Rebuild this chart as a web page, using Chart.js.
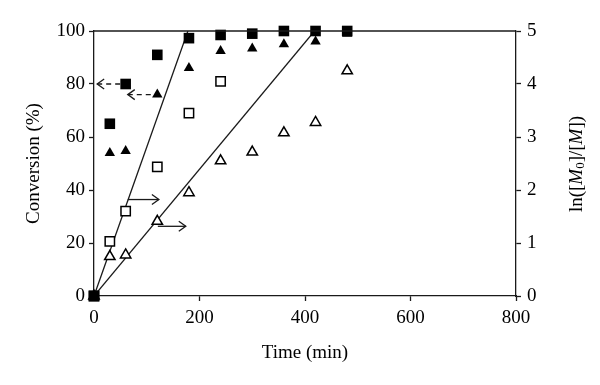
<!DOCTYPE html>
<html>
<head>
<meta charset="utf-8">
<script src="https://cdn.jsdelivr.net/npm/chart.js@4.4.1/dist/chart.umd.min.js"></script>
<style>
  html, body { margin: 0; padding: 0; background: #fff; }
  #wrap { width: 600px; height: 385px; position: relative; }
</style>
</head>
<body>
<div id="wrap"><canvas id="chart"></canvas></div>
<script>
// conversion data (%), time in min
const timeFilledSquare = [0, 30, 60, 120, 180, 240, 300, 360, 420, 480];
const convFilledSquare = [0, 65, 80, 91, 97.3, 98.5, 99, 100, 100, 100];
const timeFilledTriangle = [30, 60, 120, 180, 240, 300, 360, 420, 480];
const convFilledTriangle = [54, 54.7, 76, 86, 92.5, 93.4, 95, 96, 99];
const timeOpenSquare = [0, 30, 60, 120, 180, 240];
const convOpenSquare = [0, 20.6, 32, 48.7, 69, 81];
const timeOpenTriangle = [0, 30, 60, 120, 180, 240, 300, 360, 420, 480];
const convOpenTriangle = [0, 14.9, 15.5, 28.2, 39, 51, 54.3, 61.6, 65.5, 85];

// linear fits, ln([M0]/[M]) on the right axis
const fitFastTime = [0, 178];
const fitFastLn = [0, 5];
const fitSlowTime = [0, 418];
const fitSlowLn = [0, 5];

// arrows pointing to the axis each series belongs to (data units, left axis)
const arrowY = [80, 76, 36.4, 26.3];
const arrowFrom = [51, 111, 64, 121];
const arrowTo = [6, 64, 123, 174];
const arrowDashed = [true, true, false, false];

const xTicks = [0, 200, 400, 600, 800];
const yTicks = [0, 20, 40, 60, 80, 100];
const y2Ticks = [0, 1, 2, 3, 4, 5];

const FONT = "'Liberation Serif', 'DejaVu Serif', serif";
const INK = "#1a1a1a";

const pts = (xs, ys) => xs.map((x, i) => ({ x: x, y: ys[i] }));

Chart.defaults.font.family = FONT;
Chart.defaults.color = "#000";

const extras = {
  id: "extras",
  afterDatasetsDraw(chart) {
    const ctx = chart.ctx;
    const xs = chart.scales.x;
    const ys = chart.scales.y;
    const area = chart.chartArea;
    ctx.save();
    ctx.strokeStyle = INK;
    ctx.lineWidth = 1.3;
    // top frame line
    ctx.beginPath();
    ctx.moveTo(area.left, area.top);
    ctx.lineTo(area.right, area.top);
    ctx.stroke();

    arrowY.forEach((v, i) => {
      const y = ys.getPixelForValue(v);
      const x0 = xs.getPixelForValue(arrowFrom[i]);
      const x1 = xs.getPixelForValue(arrowTo[i]);
      const dir = x1 > x0 ? 1 : -1;
      ctx.setLineDash(arrowDashed[i] ? [5, 4] : []);
      ctx.beginPath();
      ctx.moveTo(x1, y);
      ctx.lineTo(x0, y);
      ctx.stroke();
      ctx.setLineDash([]);
      ctx.beginPath();
      ctx.moveTo(x1 - dir * 7, y - 5);
      ctx.lineTo(x1, y);
      ctx.lineTo(x1 - dir * 7, y + 5);
      ctx.stroke();
    });
    ctx.restore();
  },
  afterDraw(chart) {
    // right axis title: ln([M0]/[M]) with italic M and subscript 0
    const ctx = chart.ctx;
    const parts = [
      { t: "ln([", f: "19px " + FONT, dy: 0 },
      { t: "M", f: "italic 19px " + FONT, dy: 0 },
      { t: "0", f: "13px " + FONT, dy: 4 },
      { t: "]/[", f: "19px " + FONT, dy: 0 },
      { t: "M", f: "italic 19px " + FONT, dy: 0 },
      { t: "])", f: "19px " + FONT, dy: 0 },
    ];
    ctx.save();
    let total = 0;
    parts.forEach((p) => {
      ctx.font = p.f;
      p.w = ctx.measureText(p.t).width;
      total += p.w;
    });
    ctx.translate(577, 164);
    ctx.rotate(-Math.PI / 2);
    ctx.fillStyle = "#000";
    ctx.textBaseline = "middle";
    let cx = -total / 2;
    parts.forEach((p) => {
      ctx.font = p.f;
      ctx.fillText(p.t, cx, p.dy);
      cx += p.w;
    });
    ctx.restore();
  },
};

const tickGrid = {
  display: true,
  drawOnChartArea: false,
  drawTicks: true,
  tickLength: 5,
  tickColor: INK,
  tickWidth: 1.3,
};

new Chart(document.getElementById("chart"), {
  type: "scatter",
  data: {
    datasets: [
      {
        label: "filled square",
        data: pts(timeFilledSquare, convFilledSquare),
        pointStyle: "rect",
        pointRadius: 7.5,
        backgroundColor: "#000",
        borderColor: "#000",
        borderWidth: 0,
        yAxisID: "y",
        clip: false,
        order: 0,
      },
      {
        label: "filled triangle",
        data: pts(timeFilledTriangle, convFilledTriangle),
        pointStyle: "triangle",
        pointRadius: 6,
        backgroundColor: "#000",
        borderColor: "#000",
        borderWidth: 0,
        yAxisID: "y",
        clip: false,
        order: 1,
      },
      {
        label: "open square",
        data: pts(timeOpenSquare, convOpenSquare),
        pointStyle: "rect",
        pointRadius: 6.6,
        backgroundColor: "#fff",
        borderColor: "#000",
        borderWidth: 1.5,
        yAxisID: "y",
        clip: false,
        order: 2,
      },
      {
        label: "open triangle",
        data: pts(timeOpenTriangle, convOpenTriangle),
        pointStyle: "triangle",
        pointRadius: 6,
        backgroundColor: "#fff",
        borderColor: "#000",
        borderWidth: 1.5,
        yAxisID: "y",
        clip: false,
        order: 3,
      },
      {
        label: "fit fast",
        type: "line",
        data: pts(fitFastTime, fitFastLn),
        borderColor: INK,
        borderWidth: 1.3,
        pointRadius: 0,
        yAxisID: "y2",
        order: 10,
      },
      {
        label: "fit slow",
        type: "line",
        data: pts(fitSlowTime, fitSlowLn),
        borderColor: INK,
        borderWidth: 1.3,
        pointRadius: 0,
        yAxisID: "y2",
        order: 10,
      },
    ],
  },
  options: {
    responsive: true,
    maintainAspectRatio: false,
    animation: false,
    events: [],
    layout: { padding: { top: 31, left: 0, right: 0, bottom: 0 } },
    plugins: { legend: { display: false }, tooltip: { enabled: false } },
    scales: {
      x: {
        type: "linear",
        position: "bottom",
        min: 0,
        max: 800,
        afterBuildTicks: (s) => { s.ticks = xTicks.map((v) => ({ value: v })); },
        afterFit: (s) => { s.height = 89; },
        ticks: { font: { size: 19 }, padding: 6, maxRotation: 0 },
        grid: tickGrid,
        border: { display: true, color: INK, width: 1.3 },
        title: {
          display: true,
          text: "Time (min)",
          font: { size: 19 },
          padding: { top: 0, bottom: 21 },
        },
      },
      y: {
        type: "linear",
        position: "left",
        min: 0,
        max: 100,
        afterBuildTicks: (s) => { s.ticks = yTicks.map((v) => ({ value: v })); },
        afterFit: (s) => { s.width = 94; },
        ticks: { font: { size: 19 }, padding: 4 },
        grid: tickGrid,
        border: { display: true, color: INK, width: 1.3 },
        title: {
          display: true,
          text: "Conversion (%)",
          font: { size: 19 },
          padding: { top: 23, bottom: 0 },
        },
      },
      y2: {
        type: "linear",
        position: "right",
        min: 0,
        max: 5,
        afterBuildTicks: (s) => { s.ticks = y2Ticks.map((v) => ({ value: v })); },
        afterFit: (s) => { s.width = 84; },
        ticks: { font: { size: 19 }, padding: 6 },
        grid: tickGrid,
        border: { display: true, color: INK, width: 1.3 },
      },
    },
  },
  plugins: [extras],
});
</script>
</body>
</html>
